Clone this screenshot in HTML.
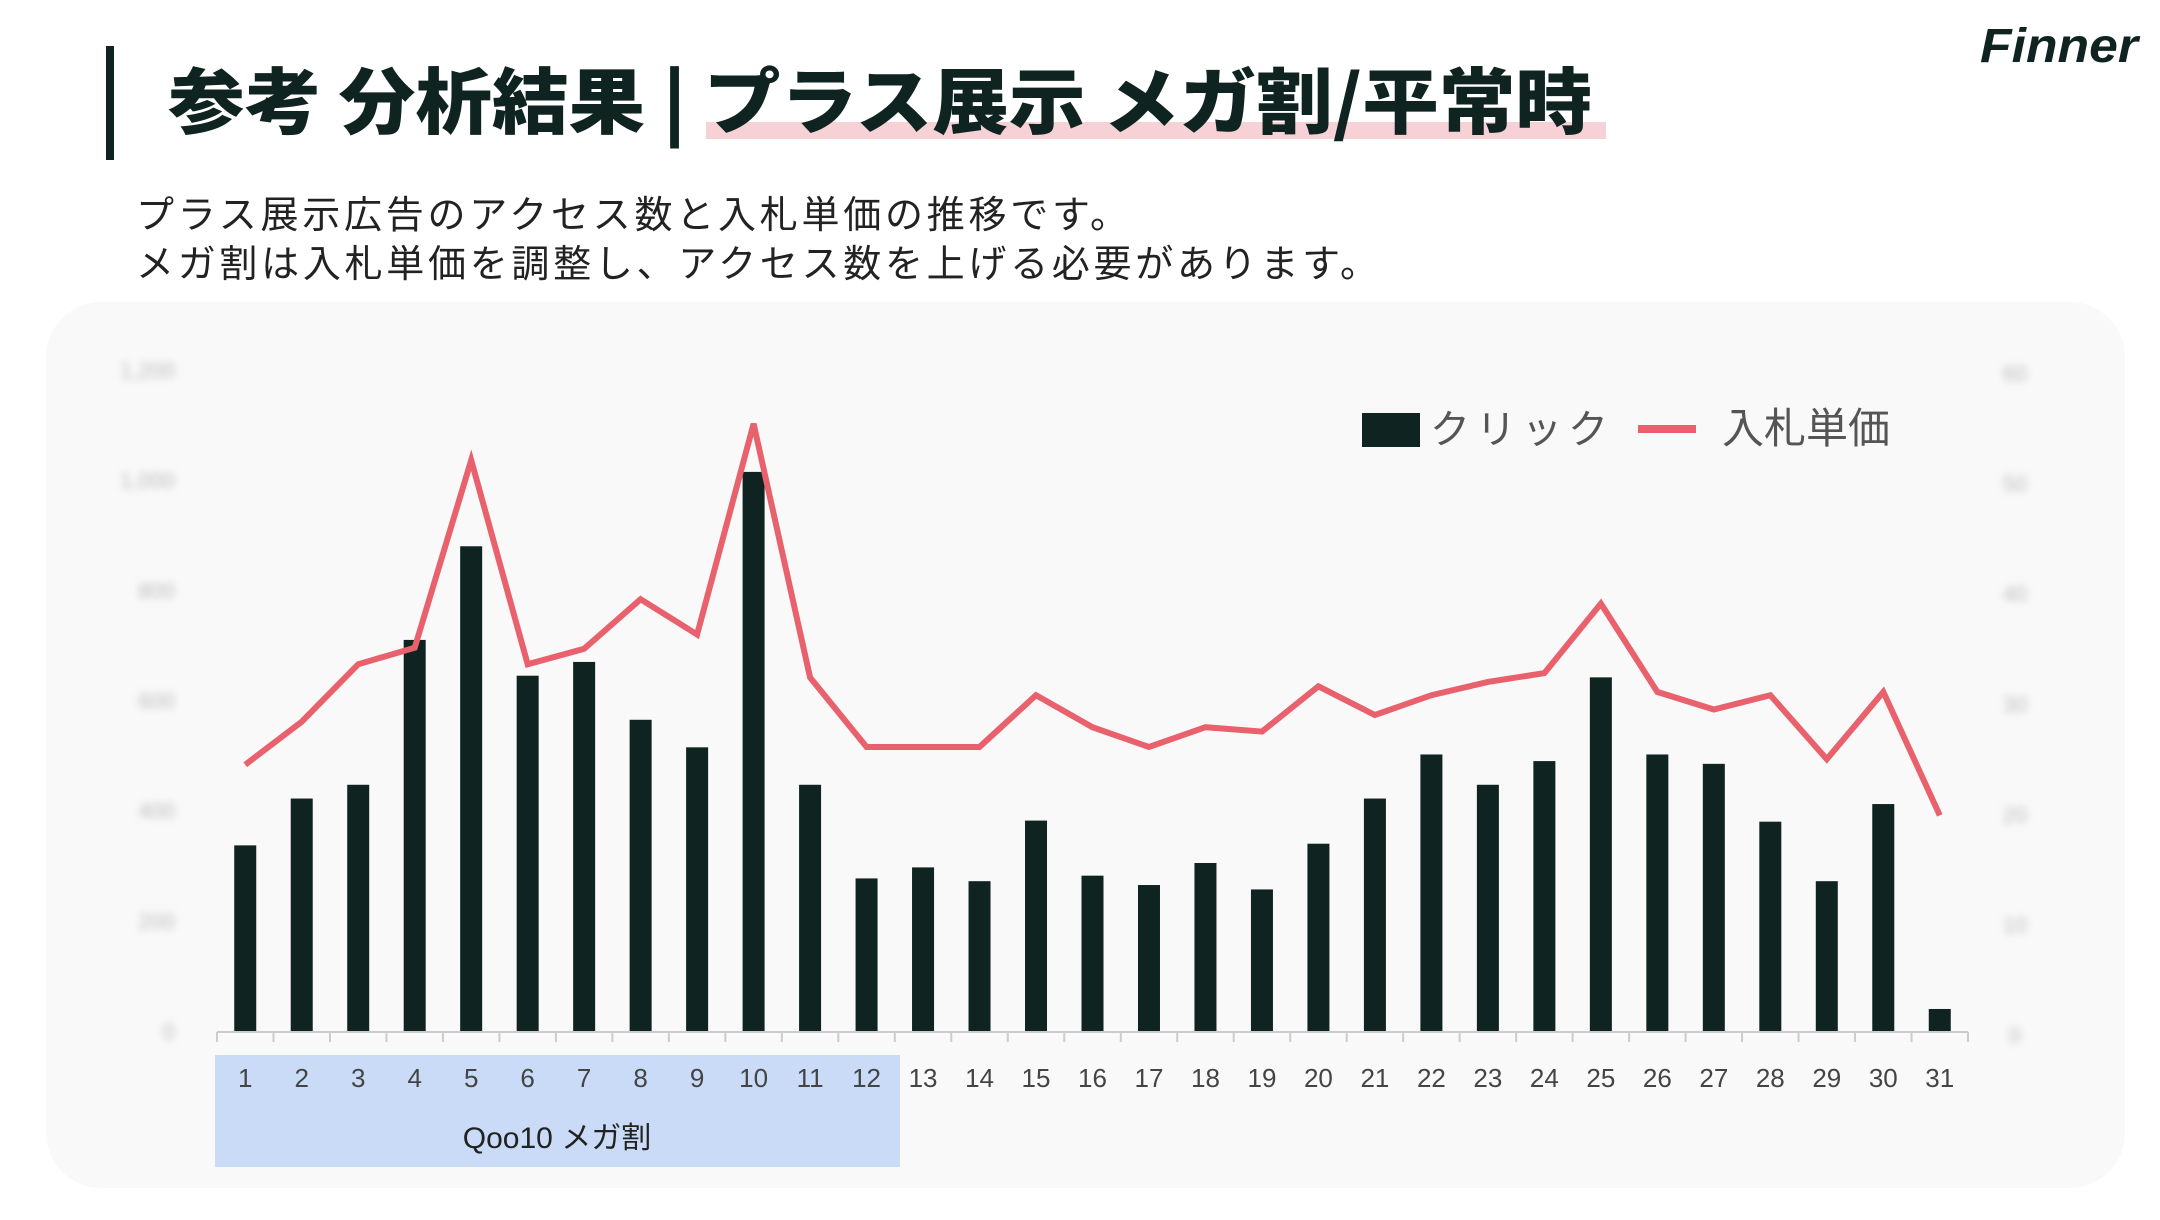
<!DOCTYPE html>
<html><head><meta charset="utf-8"><style>
html,body{margin:0;padding:0;background:#fff;}
body{width:2160px;height:1215px;overflow:hidden;position:relative;font-family:"Liberation Sans","Noto Sans CJK JP",sans-serif;}
</style></head><body>
<svg id="page" width="2160" height="1215" viewBox="0 0 2160 1215" xmlns="http://www.w3.org/2000/svg">
  <defs><filter id="blur" x="-50%" y="-50%" width="200%" height="200%"><feGaussianBlur stdDeviation="4"/></filter></defs>
  <rect x="106" y="46" width="8" height="114" fill="#0f2320"/>
  <rect x="706" y="122" width="900" height="17" fill="#f6d1d6"/>
  <text x="168" y="128" font-size="72" font-weight="900" fill="#0f2320" textLength="1424" lengthAdjust="spacingAndGlyphs" font-family="'Noto Sans CJK JP',sans-serif">参考 分析結果 | プラス展示 メガ割/平常時</text>
  <text x="1980" y="62" font-size="48" font-weight="900" font-style="italic" fill="#0f2320" textLength="158" lengthAdjust="spacingAndGlyphs" font-family="'Liberation Sans',sans-serif">Finner</text>
  <text x="136" y="228" font-size="38" fill="#222" textLength="992" font-family="'Noto Sans CJK JP',sans-serif">プラス展示広告のアクセス数と入札単価の推移です。</text>
  <text x="136" y="277" font-size="38" fill="#222" textLength="1242" font-family="'Noto Sans CJK JP',sans-serif">メガ割は入札単価を調整し、アクセス数を上げる必要があります。</text>
  <rect x="46" y="302" width="2079" height="886" rx="55" fill="#f9f9f9"/>
  <rect x="215" y="1055" width="685" height="112" fill="#c9dbf7"/>
  <text x="557" y="1148" font-size="30" fill="#222" text-anchor="middle" font-family="'Liberation Sans','Noto Sans CJK JP',sans-serif">Qoo10 メガ割</text>
  <g id="chart"></g>
  <g>
    <rect x="1362" y="413" width="58" height="34" fill="#0f2320"/>
    <text x="1430" y="443" font-size="40" fill="#555" letter-spacing="6" font-family="'Noto Sans CJK JP',sans-serif">クリック</text>
    <rect x="1638" y="425" width="58" height="8" fill="#e8616c"/>
    <text x="1722" y="443" font-size="42" fill="#555" font-family="'Noto Sans CJK JP',sans-serif">入札単価</text>
  </g>
</svg>
<script>
const days = [1,2,3,4,5,6,7,8,9,10,11,12,13,14,15,16,17,18,19,20,21,22,23,24,25,26,27,28,29,30,31];
const clicks = [337,422,447,710,880,645,670,565,515,1015,447,277,297,272,382,282,265,305,257,340,422,502,447,490,642,502,485,380,272,412,40];
const bids = [24.5,28.4,33.6,35.1,52.1,33.6,35,39.5,36.3,55.4,32.4,26.1,26.1,26.1,30.8,27.9,26.1,27.9,27.5,31.6,29,30.8,32,32.8,39.1,31.1,29.5,30.8,25,31.1,19.9];
const leftTicks = [0,200,400,600,800,1000,1200];
const leftTickLabels = ["0","200","400","600","800","1,000","1,200"];
const rightTicks = [0,10,20,30,40,50,60];
const rightTickLabels = ["0","10","20","30","40","50","60"];

const NS = "http://www.w3.org/2000/svg";
const g = document.getElementById('chart');
const x0 = 217, x1 = 1968;
const step = (x1 - x0) / days.length;
const xC = i => x0 + step * (i + 0.5);
const yL = v => 1031 - v / 1200 * 661;
const yR = v => 1035 - v / 60 * 662;
function mk(tag, attrs){ const e = document.createElementNS(NS, tag); for (const k in attrs) e.setAttribute(k, attrs[k]); g.appendChild(e); return e; }

leftTicks.forEach((t, i) => {
  const e = mk('text', {x: 175, y: yL(t) + 8, 'font-size': 22, fill: '#bbb', 'text-anchor': 'end', filter: 'url(#blur)'});
  e.textContent = leftTickLabels[i];
  
  
});
rightTicks.forEach((t, i) => {
  const e = mk('text', {x: 2015, y: yR(t) + 8, 'font-size': 22, fill: '#bbb', 'text-anchor': 'middle', filter: 'url(#blur)'});
  e.textContent = rightTickLabels[i];
  
  
});

clicks.forEach((v, i) => {
  const r = mk('rect', {x: xC(i) - 11, y: yL(v), width: 22, height: 1031 - yL(v), fill: '#0f2320'});
  
  
});

const axis = mk('line', {x1: x0, y1: 1032, x2: x1, y2: 1032, stroke: '#ccc', 'stroke-width': 2});


for (let i = 0; i <= days.length; i++) {
  const t = mk('line', {x1: x0 + step * i, y1: 1032, x2: x0 + step * i, y2: 1042, stroke: '#ccc', 'stroke-width': 2});
  
  
}
days.forEach((d, i) => {
  const e = mk('text', {x: xC(i), y: 1087, 'font-size': 26, fill: '#444', 'text-anchor': 'middle'});
  e.textContent = d;
  
  
});

const pts = bids.map((v, i) => xC(i).toFixed(1) + ',' + yR(v).toFixed(1)).join(' ');
const line = mk('polyline', {points: pts, fill: 'none', stroke: '#e8616c', 'stroke-width': 6, 'stroke-linejoin': 'miter'});


</script>
</body></html>
